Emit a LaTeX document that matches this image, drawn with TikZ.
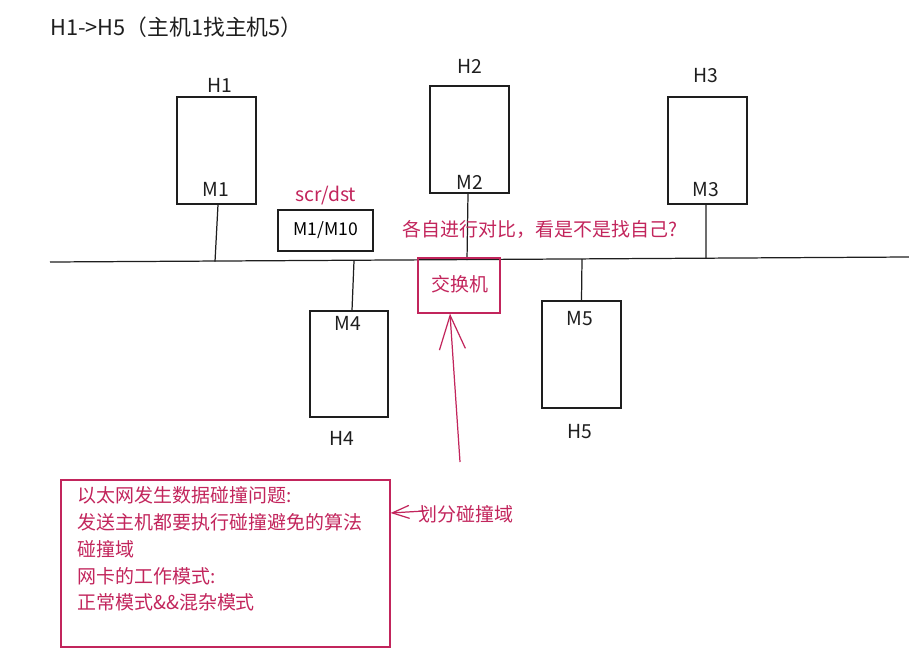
\documentclass[tikz,border=0pt]{standalone}
\usepackage{fontspec}
\setmainfont{Noto Sans CJK SC}
\usetikzlibrary{arrows.meta}
\definecolor{pinkc}{HTML}{C2255C}
\definecolor{inkc}{HTML}{1E1E1E}
\tikzset{
  hostbox/.style={draw=inkc, line width=0.7pt, inner sep=0pt, minimum width=1.58cm, minimum height=2.14cm},
  lbl/.style={text=inkc, font=\fontsize{11}{13}\selectfont, inner sep=0pt},
  cjk/.style={text=pinkc, font=\fontsize{10.8}{15.3}\selectfont, inner sep=0pt},
  wire/.style={draw=inkc, line width=0.7pt},
  pinkbox/.style={draw=pinkc, line width=0.7pt, inner sep=0pt},
  pinkarrow/.style={draw=pinkc, line width=0.7pt}
}
\begin{document}
\begin{tikzpicture}[x=0.02cm, y=-0.02cm]
\useasboundingbox (0,0) rectangle (909,666);
% title
\node[lbl, anchor=west, font=\fontsize{12.4}{14}\selectfont] (title) at (50,27) {H1->H5（主机1找主机5）};
% bus
\coordinate (busL) at (50,262);
\coordinate (busR) at (909,257);
\draw[wire] (busL) -- (busR);
% hosts
\node[hostbox] (h1) at (216.5,150.5) {};
\node[hostbox] (h2) at (469.5,139.5) {};
\node[hostbox] (h3) at (707.5,150.5) {};
\node[hostbox, minimum width=1.56cm, minimum height=2.12cm] (h4) at (349,364) {};
\node[hostbox] (h5) at (581.5,354.5) {};
% host names
\node[lbl] (n1) at (220,85) {H1};
\node[lbl] (n2) at (470,66) {H2};
\node[lbl] (n3) at (706,76) {H3};
\node[lbl] (n4) at (342,438) {H4};
\node[lbl] (n5) at (580,432) {H5};
% MAC labels
\node[lbl] (m1) at (216,189) {M1};
\node[lbl] (m2) at (470,182) {M2};
\node[lbl] (m3) at (706,190) {M3};
\node[lbl] (m4) at (348,323) {M4};
\node[lbl] (m5) at (580,319) {M5};
% bus taps
\coordinate (b1) at (215,261.6);
\coordinate (b2) at (467,260.2);
\coordinate (b3) at (706,258.2);
\coordinate (b4) at (354,260.8);
\coordinate (b5) at (582,259);
\draw[wire] ([xshift=0.03cm]h1.south) -- (b1);
\draw[wire] ([xshift=-0.03cm]h2.south) -- (b2);
\draw[wire] ([xshift=-0.03cm]h3.south) -- (b3);
\draw[wire] ([xshift=0.06cm]h4.north) -- (b4);
\draw[wire] (h5.north) -- (b5);
% src/dst frame
\node[hostbox, minimum width=1.9cm, minimum height=0.82cm, font=\fontsize{10}{12}\selectfont] (frame) at (325.5,230.5) {M1/M10};
\node[lbl, text=pinkc] (sd) at (326,196) {scr/dst};
% compare note
\node[cjk, anchor=west] (cmp) at (402,229) {各自进行对比，看是不是找自己?};
% switch
\node[pinkbox, minimum width=1.64cm, minimum height=1.1cm] (sw) at (459,285.5) {};
\node[cjk] (swt) at (460,284) {交换机};
% arrow to switch
\coordinate (a0) at (460,462);
\draw[pinkarrow, -{Straight Barb[length=0.68cm, width=0.52cm]}] (a0) -- (sw.south -| 450,0);
% note box
\node[pinkbox, minimum width=6.58cm, minimum height=3.34cm] (note) at (225.5,563.5) {};
\node[cjk, anchor=north west, align=left] (notet) at (77,486) {以太网发生数据碰撞问题:\\发送主机都要执行碰撞避免的算法\\碰撞域\\网卡的工作模式:\\正常模式\&\&混杂模式};
% divide label
\node[cjk, anchor=west] (div) at (418,514) {划分碰撞域};
\draw[pinkarrow, -{Straight Barb[length=0.34cm, width=0.26cm]}] (div.west) ++(6,-3) coordinate (d0) (d0) -- (note.east |- 0,513);
\end{tikzpicture}
\end{document}
